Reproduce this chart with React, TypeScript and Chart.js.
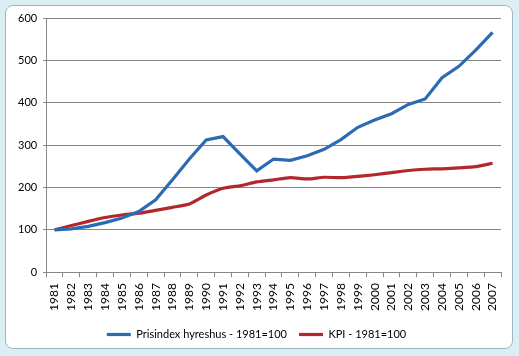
import React, { useEffect, useRef } from "react";
import { Chart, registerables } from "chart.js";

Chart.register(...registerables);

const years = ["1981","1982","1983","1984","1985","1986","1987","1988","1989","1990","1991","1992","1993","1994","1995","1996","1997","1998","1999","2000","2001","2002","2003","2004","2005","2006","2007"];
const prisindex = [100,102,108,117,128,143,171,218,267,312,320,279,239,267,264,275,290,313,342,359,374,396,409,459,486,524,566];
const kpi = [100,110,120,129,135,139,146,153,161,182,198,204,213,218,223,220,224,223,226,230,235,240,243,244,246,249,257];
const yTicks = [0,100,200,300,400,500,600];

export default function App() {
  const ref = useRef<HTMLCanvasElement | null>(null);
  useEffect(() => {
    if (!ref.current) return;
    const font = { family: "Lato, 'Open Sans', sans-serif", size: 11 };
    const xFont = { family: "Lato, 'Open Sans', sans-serif", size: 12 };
    const chart = new Chart(ref.current, {
      type: "line",
      data: {
        labels: years,
        datasets: [
          { label: "Prisindex hyreshus - 1981=100", data: prisindex, borderColor: "#2c6bb4", backgroundColor: "#2c6bb4", borderWidth: 3.2, pointRadius: 0, tension: 0 },
          { label: "KPI - 1981=100", data: kpi, borderColor: "#b3272a", backgroundColor: "#b3272a", borderWidth: 3.2, pointRadius: 0, tension: 0.2 },
        ],
      },
      options: {
        responsive: false,
        animation: false,
        layout: { padding: { left: 12, right: 18, top: 18, bottom: 6 } },
        plugins: {
          tooltip: { enabled: false },
          legend: {
            position: "bottom",
            labels: {
              usePointStyle: true,
              pointStyle: "line",
              pointStyleWidth: 24,
              padding: 12,
              color: "#000",
              font,
            },
          },
        },
        scales: {
          x: {
            offset: true,
            grid: { offset: true, drawOnChartArea: false, color: "#868686", tickLength: 5 },
            border: { color: "#868686" },
            ticks: { minRotation: 90, maxRotation: 90, autoSkip: false, color: "#000", font: xFont, padding: 6 },
          },
          y: {
            min: 0,
            max: 600,
            afterBuildTicks: (axis: any) => { axis.ticks = yTicks.map((v) => ({ value: v })); },
            grid: { color: "#868686", tickLength: 3 },
            border: { color: "#868686" },
            ticks: { color: "#000", font, padding: 6 },
          },
        },
      },
    });
    return () => chart.destroy();
  }, []);
  return (
    <div style={{ position: "fixed", left: 0, top: 0, width: 519, height: 356, background: "#dbeef3", overflow: "hidden" }}>
      <div style={{ position: "absolute", left: 5, top: 5, width: 506, height: 342, background: "#fff", border: "1px solid #9cb6c2", borderRadius: 8 }} />
      <canvas ref={ref} width={519} height={356} style={{ position: "absolute", left: 0, top: 0 }} />
    </div>
  );
}
